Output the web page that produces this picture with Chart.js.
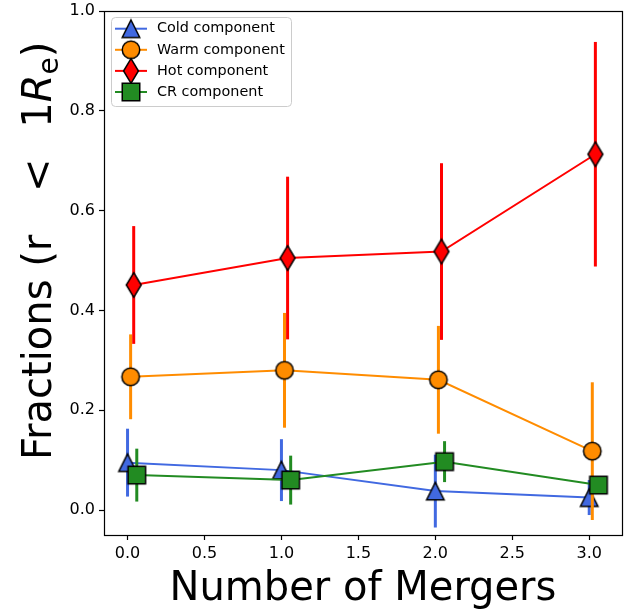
<!DOCTYPE html>
<html>
<head>
<meta charset="utf-8">
<title>Fractions vs Number of Mergers</title>
<script src="https://cdn.jsdelivr.net/npm/chart.js@4.4.0/dist/chart.umd.min.js"></script>
<style>
  html, body { margin: 0; padding: 0; background: #fff; }
  #wrap { width: 644px; height: 615px; }
</style>
</head>
<body>
<div id="wrap"><canvas id="grafico" width="644" height="615"></canvas></div>
<script>
// x positions (each component nudged a little so the bars don't overlap)
const xCold = [0, 1, 2, 3];
const xWarm = [0.02, 1.02, 2.02, 3.02];
const xHot = [0.04, 1.04, 2.04, 3.04];
const xCR = [0.06, 1.06, 2.06, 3.06];

const cold = [0.095, 0.080, 0.038, 0.025];
const coldErr = [0.068, 0.062, 0.073, 0.035];
const warm = [0.267, 0.280, 0.261, 0.118];
const warmErr = [0.085, 0.115, 0.108, 0.138];
const hot = [0.451, 0.505, 0.518, 0.713];
const hotErr = [0.118, 0.163, 0.177, 0.225];
const cr = [0.070, 0.060, 0.097, 0.050];
const crErr = [0.053, 0.049, 0.041, 0.015];

const xTicks = [0, 0.5, 1, 1.5, 2, 2.5, 3];
const yTicks = [0, 0.2, 0.4, 0.6, 0.8, 1.0];

const FONT = "'DejaVu Sans', 'Liberation Sans', sans-serif";

// marker images, black edged like the usual errorbar markers
function marker(shape, color) {
    const c = document.createElement('canvas');
    c.width = 32; c.height = 32;
    const g = c.getContext('2d');
    const m = 17.5, h = m / 2;
    g.translate(16, 16);
    g.beginPath();
    if (shape === 'triangle') {
        g.moveTo(0, -h); g.lineTo(h, h); g.lineTo(-h, h); g.closePath();
    } else if (shape === 'circle') {
        g.arc(0, 0, h, 0, Math.PI * 2);
    } else if (shape === 'thin_diamond') {
        const a = h * Math.SQRT2;
        g.moveTo(0, -a); g.lineTo(a * 0.6, 0); g.lineTo(0, a); g.lineTo(-a * 0.6, 0); g.closePath();
    } else {
        g.rect(-h, -h, m, m);
    }
    g.fillStyle = color;
    g.fill();
    g.lineWidth = 1.5;
    g.strokeStyle = '#000';
    g.stroke();
    return c;
}

function serie(label, xs, ys, errs, color, shape, order) {
    return {
        label: label,
        errors: errs,
        data: xs.map((x, i) => ({ x: x, y: ys[i] })),
        borderColor: color,
        backgroundColor: color,
        borderWidth: 2,
        pointStyle: marker(shape, color),
        pointRadius: 9,
        fill: false,
        tension: 0,
        clip: false,
        order: order
    };
}

// vertical error bars, drawn just before each dataset's line and markers
const barrasError = {
    id: 'barrasError',
    beforeDatasetDraw(chart, args) {
        const ds = chart.data.datasets[args.index];
        const sx = chart.scales.x, sy = chart.scales.y;
        const ctx = chart.ctx;
        ctx.save();
        ctx.strokeStyle = ds.borderColor;
        ctx.lineWidth = 3;
        ds.data.forEach((p, i) => {
            const px = sx.getPixelForValue(p.x);
            ctx.beginPath();
            ctx.moveTo(px, sy.getPixelForValue(p.y - ds.errors[i]));
            ctx.lineTo(px, sy.getPixelForValue(p.y + ds.errors[i]));
            ctx.stroke();
        });
        ctx.restore();
    }
};

// closed axes box
const marco = {
    id: 'marco',
    afterDatasetsDraw(chart) {
        const a = chart.chartArea, ctx = chart.ctx;
        ctx.save();
        ctx.strokeStyle = '#000';
        ctx.lineWidth = 1.2;
        ctx.strokeRect(Math.round(a.left) + 0.5, Math.round(a.top) + 0.5,
            Math.round(a.right - a.left), Math.round(a.bottom - a.top));
        ctx.restore();
    }
};

const leyenda = {
    id: 'leyenda',
    afterDraw(chart) {
        const ctx = chart.ctx, a = chart.chartArea;
        const x0 = a.left + 7, y0 = a.top + 6, w = 180, h = 89;
        ctx.save();
        ctx.fillStyle = 'rgba(255,255,255,0.8)';
        ctx.strokeStyle = '#cccccc';
        ctx.lineWidth = 1;
        ctx.beginPath();
        ctx.roundRect(x0 + 0.5, y0 + 0.5, w, h, 4);
        ctx.fill();
        ctx.stroke();
        // legend follows dataset index, not draw order
        chart.data.datasets.forEach((ds, i) => {
            const cy = y0 + 11.7 + i * 21.1;
            ctx.strokeStyle = ds.borderColor;
            ctx.lineWidth = 2;
            ctx.beginPath();
            ctx.moveTo(x0 + 4, cy);
            ctx.lineTo(x0 + 36, cy);
            ctx.stroke();
            ctx.drawImage(ds.pointStyle, x0 + 20 - 16, cy - 16);
            ctx.fillStyle = '#000';
            ctx.font = '14.4px ' + FONT;
            ctx.textBaseline = 'middle';
            ctx.fillText(ds.label, x0 + 46, cy);
        });
        ctx.restore();
    }
};

// y title with italic R and subscript e, written upwards from near the bottom
const tituloY = {
    id: 'tituloY',
    afterDraw(chart) {
        const ctx = chart.ctx;
        const base = '40px ' + FONT;
        const parts = [
            { t: 'Fractions (r ', f: base, dy: 0, before: 0, after: 0 },
            { t: '<', f: base, dy: 0, before: 30, after: 18 },
            { t: ' 1', f: base, dy: 0, before: 0, after: 0 },
            { t: 'R', f: 'italic 40px ' + FONT, dy: 0, before: 0, after: 0 },
            { t: 'e', f: '28px ' + FONT, dy: 7, before: 0, after: 0 },
            { t: ')', f: base, dy: 0, before: 0, after: 0 }
        ];
        ctx.save();
        ctx.translate(51, 460);
        ctx.rotate(-Math.PI / 2);
        ctx.fillStyle = '#000';
        ctx.textBaseline = 'alphabetic';
        let x = 0;
        parts.forEach(p => {
            ctx.font = p.f;
            x += p.before;
            ctx.fillText(p.t, x, p.dy);
            x += ctx.measureText(p.t).width + p.after;
        });
        ctx.restore();
    }
};

const ejeComun = {
    grid: { drawOnChartArea: false, drawTicks: true, tickLength: 5, tickColor: '#000', tickWidth: 1.2 },
    border: { display: false }
};

new Chart(document.getElementById('grafico'), {
    type: 'line',
    data: {
        datasets: [
            serie('Cold component', xCold, cold, coldErr, '#4169e1', 'triangle', 4),
            serie('Warm component', xWarm, warm, warmErr, '#ff8c00', 'circle', 3),
            serie('Hot component', xHot, hot, hotErr, '#ff0000', 'thin_diamond', 2),
            serie('CR component', xCR, cr, crErr, '#228b22', 'square', 1)
        ]
    },
    options: {
        responsive: false,
        animation: false,
        events: [],
        devicePixelRatio: 1,
        layout: { padding: { top: 9, right: 22, left: 0, bottom: 0 } },
        plugins: { legend: { display: false }, tooltip: { enabled: false } },
        scales: {
            x: {
                ...ejeComun,
                type: 'linear',
                min: -0.153,
                max: 3.213,
                afterBuildTicks: s => { s.ticks = xTicks.map(v => ({ value: v })); },
                afterFit: s => { s.height = 80; s.paddingLeft = 0; s.paddingRight = 0; },
                ticks: {
                    color: '#000', autoSkip: false, maxRotation: 0, padding: 4,
                    font: { family: FONT, size: 16 },
                    callback: v => v.toFixed(1)
                },
                title: {
                    display: true, text: 'Number of Mergers', color: '#000',
                    font: { family: FONT, size: 40 },
                    padding: { top: 0, bottom: 1 }
                }
            },
            y: {
                ...ejeComun,
                type: 'linear',
                min: -0.05,
                max: 1.0,
                afterBuildTicks: s => { s.ticks = yTicks.map(v => ({ value: v })); },
                afterFit: s => { s.width = 104; s.paddingTop = 0; s.paddingBottom = 0; },
                ticks: {
                    color: '#000', autoSkip: false, padding: 4,
                    font: { family: FONT, size: 16 },
                    callback: v => v.toFixed(1)
                }
            }
        }
    },
    plugins: [barrasError, marco, leyenda, tituloY]
});
</script>
</body>
</html>
